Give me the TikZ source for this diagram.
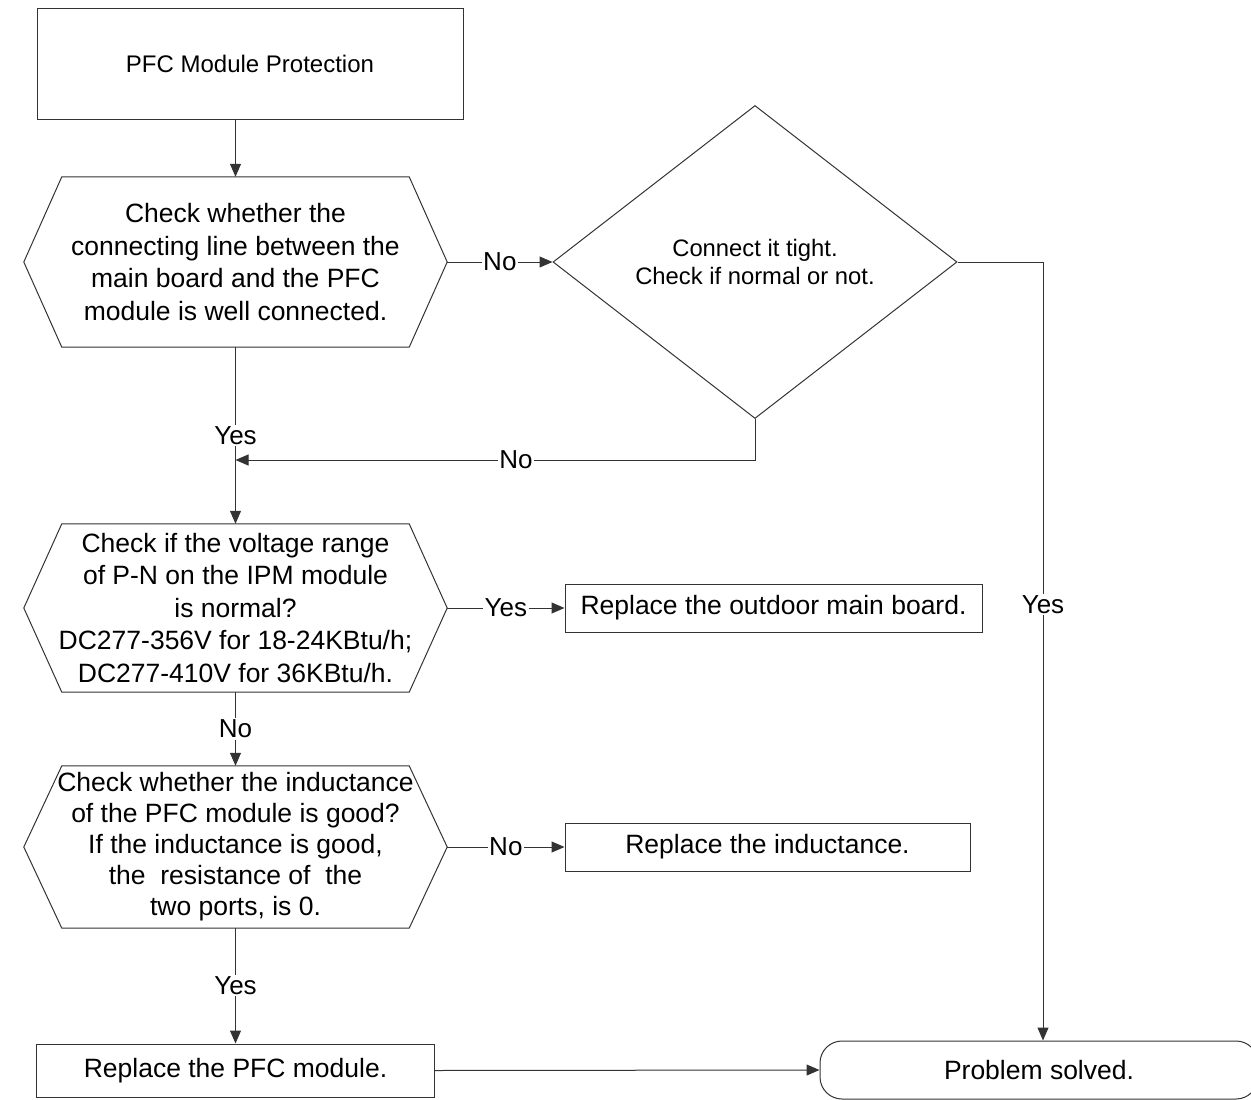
\documentclass[tikz,border=0pt]{standalone}
\usepackage{fontspec}
\setmainfont{Liberation Sans}
\usetikzlibrary{arrows.meta,shapes.geometric}

\tikzset{
  flow/.style={draw=black!80,line width=1pt},
  arr/.style={flow,-{Triangle[length=13pt,width=11pt]}},
  box/.style={flow,rectangle,inner sep=0pt,align=center,font=\fontsize{26.5}{31.5}\selectfont},
  hexbox/.style={rectangle,inner sep=0pt,minimum width=423pt,align=center,font=\fontsize{26.5}{32.5}\selectfont},
  answer/.style={fill=white,inner sep=1.5pt,font=\fontsize{26}{30}\selectfont},
}

\begin{document}
\begin{tikzpicture}[x=1pt,y=-1pt]
  \useasboundingbox (0,0) rectangle (1251,1100);

  \node[box,minimum width=426pt,minimum height=111pt,font=\fontsize{24}{28}\selectfont] (start) at (250,63.5) {PFC Module Protection};

  % the three checks, outlines drawn below
  \node[hexbox,minimum height=170pt] (chk1) at (235.5,262)
    {Check whether the\\connecting line between the\\main board and the PFC\\module is well connected.};
  \node[hexbox,minimum height=168pt] (chk2) at (235.5,608)
    {Check if the voltage range\\of P-N on the IPM module\\is normal?\\DC277-356V for 18-24KBtu/h;\\DC277-410V for 36KBtu/h.};
  \node[hexbox,minimum height=162pt,font=\fontsize{26.5}{31}\selectfont] (chk3) at (235.5,847)
    {Check whether the inductance\\of the PFC module is good?\\If the inductance is good,\\the\ \ resistance of\ \ the\\two ports, is 0.};
  \foreach \n in {chk1,chk2,chk3} {
    \draw[flow] (\n.west) -- ([xshift=38pt]\n.north west) -- ([xshift=-38pt]\n.north east)
      -- (\n.east) -- ([xshift=-38pt]\n.south east) -- ([xshift=38pt]\n.south west) -- cycle;
  }

  \node[diamond,flow,minimum width=404pt,minimum height=313pt,inner sep=0pt,align=center,
    font=\fontsize{23.8}{28.5}\selectfont] (tight) at (755,262) {Connect it tight.\\Check if normal or not.};

  \node[box,minimum width=417pt,minimum height=48pt] (board) at (773.5,608) {Replace the outdoor main board.};
  \node[box,minimum width=405pt,minimum height=48pt] (induct) at (767.5,847) {Replace the inductance.};
  \node[box,minimum width=398pt,minimum height=53pt] (pfc) at (235.5,1070.5) {Replace the PFC module.};
  \node[box,rounded corners=22pt,minimum width=438pt,minimum height=58pt] (done) at (1039,1070) {Problem solved.};

  \coordinate (merge) at (235.5,460);
  \coordinate (bend) at (1043,262);

  % connectors
  \draw[arr] (chk1.north |- start.south) -- (chk1.north);
  \draw[arr] (chk1.east) -- node[answer]{No} (tight.west);
  \draw[arr] (chk1.south) -- node[answer]{Yes} (chk2.north);
  \draw[arr] (tight.south) |- node[answer,pos=.73]{No} (merge);
  \draw[arr] (tight.east) -- (bend) -- node[answer,pos=.44]{Yes} (bend |- done.north);
  \draw[arr] (chk2.east) -- node[answer]{Yes} (board.west);
  \draw[arr] (chk2.south) -- node[answer]{No} (chk3.north);
  \draw[arr] (chk3.east) -- node[answer]{No} (induct.west);
  \draw[arr] (chk3.south) -- node[answer]{Yes} (pfc.north);
  \draw[arr] (pfc.east) -- (done.west);
\end{tikzpicture}
\end{document}
